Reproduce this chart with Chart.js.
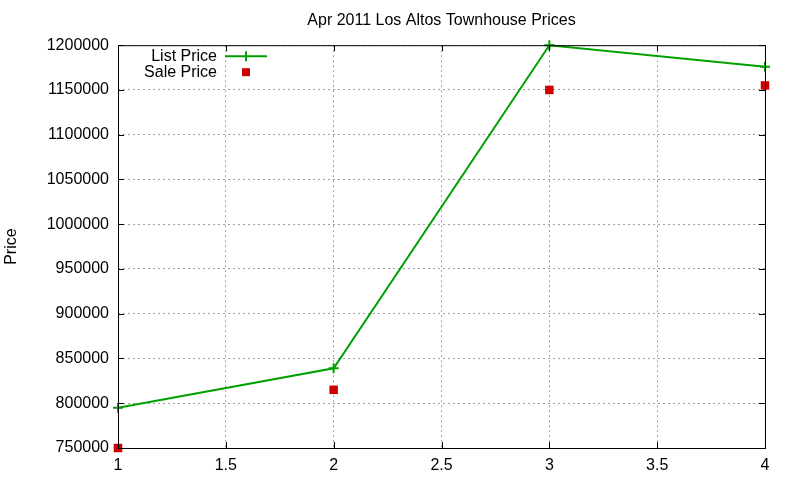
<!DOCTYPE html>
<html>
<head>
<meta charset="utf-8">
<script src="https://cdn.jsdelivr.net/npm/chart.js@4.4.1/dist/chart.umd.min.js"></script>
<style>
  html, body { margin: 0; padding: 0; background: #fff; }
  #wrap { width: 800px; height: 480px; }
</style>
</head>
<body>
<div id="wrap"><canvas id="chart"></canvas></div>
<script>
// data
const xValues = [1, 2, 3, 4];
const listPrice = [795000, 839000, 1200000, 1176000];
const salePrice = [750000, 815000, 1150000, 1155000];
const xTicks = [1, 1.5, 2, 2.5, 3, 3.5, 4];
const yTicks = [750000, 800000, 850000, 900000, 950000, 1000000, 1050000, 1100000, 1150000, 1200000];

const FONT = "'Liberation Sans', Arial, sans-serif";
const GREEN = '#00a000';
const RED = '#cc0000';

// box round the plot + gnuplot style legend in the top left corner
const frame = {
  id: 'frame',
  afterDatasetsDraw(chart) {
    const { ctx, chartArea: a } = chart;
    ctx.save();
    ctx.strokeStyle = '#000';
    ctx.lineWidth = 1;
    ctx.setLineDash([]);
    ctx.strokeRect(a.left + 0.5, a.top + 0.5, a.right - a.left, a.bottom - a.top);
    // small inward ticks
    ctx.beginPath();
    chart.scales.x.ticks.forEach(t => {
      const px = Math.round(chart.scales.x.getPixelForValue(t.value)) + 0.5;
      ctx.moveTo(px, a.bottom); ctx.lineTo(px, a.bottom - 6);
      ctx.moveTo(px, a.top); ctx.lineTo(px, a.top + 6);
    });
    chart.scales.y.ticks.forEach(t => {
      const py = Math.round(chart.scales.y.getPixelForValue(t.value)) + 0.5;
      ctx.moveTo(a.left, py); ctx.lineTo(a.left + 6, py);
      ctx.moveTo(a.right, py); ctx.lineTo(a.right - 6, py);
    });
    ctx.stroke();

    // legend
    ctx.font = '16px ' + FONT;
    ctx.fillStyle = '#000';
    ctx.textAlign = 'right';
    ctx.textBaseline = 'middle';
    const textX = a.left + 99, sx = a.left + 128;
    const rows = chart.data.datasets.map((d, i) => ({ d, y: a.top + 11 + i * 16 }));
    rows.forEach(({ d, y }) => {
      ctx.fillText(d.label, textX, y);
      if (d.showLine) {
        ctx.strokeStyle = d.borderColor;
        ctx.lineWidth = 2;
        ctx.beginPath();
        ctx.moveTo(sx - 21, y); ctx.lineTo(sx + 21, y);
        ctx.moveTo(sx, y - 5); ctx.lineTo(sx, y + 5);
        ctx.stroke();
      } else {
        ctx.fillStyle = d.backgroundColor;
        ctx.fillRect(sx - 4, y - 4, 8, 8);
        ctx.fillStyle = '#000';
      }
    });
    ctx.restore();
  }
};

new Chart(document.getElementById('chart'), {
  type: 'scatter',
  data: {
    datasets: [
      {
        label: 'List Price',
        data: xValues.map((x, i) => ({ x: x, y: listPrice[i] })),
        showLine: true,
        borderColor: GREEN,
        backgroundColor: GREEN,
        borderWidth: 2,
        pointStyle: 'cross',
        pointRadius: 5,
        pointBorderWidth: 2,
        tension: 0,
        clip: false
      },
      {
        label: 'Sale Price',
        data: xValues.map((x, i) => ({ x: x, y: salePrice[i] })),
        showLine: false,
        borderColor: RED,
        backgroundColor: RED,
        pointStyle: 'rect',
        pointRadius: 6,
        pointBorderWidth: 0,
        clip: false
      }
    ]
  },
  options: {
    responsive: true,
    maintainAspectRatio: false,
    animation: false,
    layout: { padding: { left: 0, right: 35, top: 0, bottom: 0 } },
    plugins: {
      legend: { display: false },
      tooltip: { enabled: false },
      title: {
        display: true,
        fullSize: false,
        text: 'Apr 2011 Los Altos Townhouse Prices',
        color: '#000',
        font: { family: FONT, size: 16, weight: 'normal' },
        padding: { top: 11, bottom: 15 }
      }
    },
    scales: {
      x: {
        type: 'linear',
        min: 1,
        max: 4,
        afterBuildTicks: s => { s.ticks = xTicks.map(v => ({ value: v })); },
        afterFit: s => { s.height = 32; },
        ticks: {
          color: '#000',
          padding: 8,
          font: { family: FONT, size: 16 },
          callback: v => String(v)
        },
        grid: { color: '#a0a0a0', tickLength: 0, drawTicks: false },
        border: { display: false, dash: [2, 3] }
      },
      y: {
        min: 750000,
        max: 1200000,
        afterBuildTicks: s => { s.ticks = yTicks.map(v => ({ value: v })); },
        afterFit: s => { s.width = 118; },
        title: {
          display: true,
          text: 'Price',
          color: '#000',
          font: { family: FONT, size: 16 },
          padding: { top: 2, bottom: 0 }
        },
        ticks: {
          color: '#000',
          padding: 9,
          font: { family: FONT, size: 16 },
          callback: v => String(v)
        },
        grid: { color: '#a0a0a0', tickLength: 0, drawTicks: false },
        border: { display: false, dash: [2, 3] }
      }
    }
  },
  plugins: [frame]
});
</script>
</body>
</html>
